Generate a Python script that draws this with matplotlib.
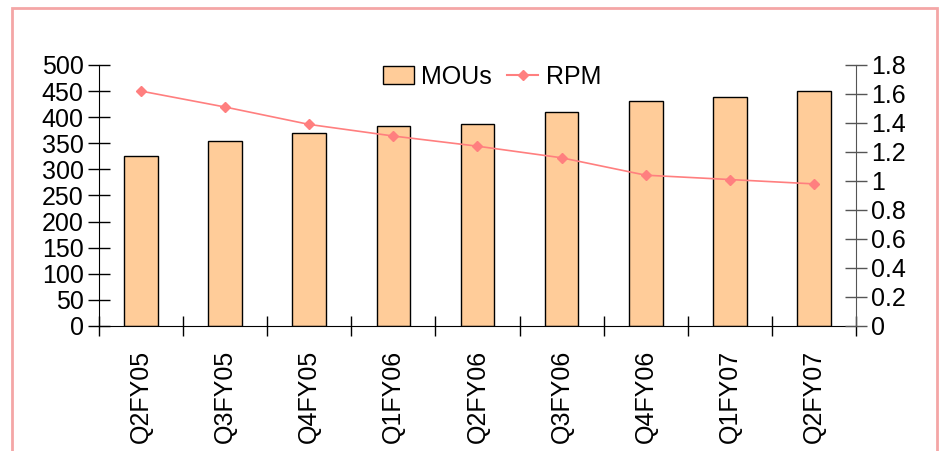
import matplotlib.pyplot as plt
import matplotlib.patches as patches
from matplotlib.lines import Line2D
import numpy as np

plt.rcParams['font.family'] = ['Liberation Sans', 'DejaVu Sans']

# data
quarters = ['Q2FY05', 'Q3FY05', 'Q4FY05', 'Q1FY06', 'Q2FY06',
            'Q3FY06', 'Q4FY06', 'Q1FY07', 'Q2FY07']
mous = [325, 355, 369, 383, 387, 410, 431, 439, 451]
rpm = [1.62, 1.51, 1.39, 1.31, 1.24, 1.16, 1.04, 1.01, 0.98]

fs = 18

fig = plt.figure(figsize=(9.39, 4.51), dpi=100)
ax = fig.add_axes([0.1054, 0.2772, 0.8062, 0.5787])
ax2 = ax.twinx()

x = np.arange(len(quarters))
ax.bar(x, mous, width=0.4, color='#FFCC99', edgecolor='black', linewidth=1, zorder=2)
ax2.plot(x, rpm, color='#FF7F7F', lw=1.2, marker='D', markersize=5, zorder=3)

ax.set_xlim(-0.5, len(quarters) - 0.5)
ax.set_ylim(0, 500)
ax2.set_ylim(0, 1.8)
ax.set_yticks(np.arange(0, 501, 50))
ax2.set_yticks(np.arange(0, 1.81, 0.2))
ax2.set_yticklabels(['0', '0.2', '0.4', '0.6', '0.8', '1', '1.2', '1.4', '1.6', '1.8'])

# category boundaries get the tick marks, labels sit at the centres
ax.set_xticks(np.arange(-0.5, len(quarters), 1))
ax.set_xticklabels([])
ax.set_xticks(x, minor=True)
ax.set_xticklabels(quarters, minor=True, rotation=90, fontsize=fs)
ax.tick_params(axis='x', which='major', direction='inout', length=15, width=1)
ax.tick_params(axis='x', which='minor', length=0, pad=17)
ax.tick_params(axis='y', direction='inout', length=16, width=1, labelsize=fs, pad=3)
ax2.tick_params(axis='y', direction='inout', length=16, width=1, labelsize=fs, pad=3,
                color='#555555')

for a in (ax, ax2):
    a.spines['top'].set_visible(False)
ax.spines['right'].set_visible(False)
ax2.spines['left'].set_visible(False)
ax2.spines['bottom'].set_visible(False)
ax2.spines['right'].set_color('#555555')

handles = [patches.Patch(facecolor='#FFCC99', edgecolor='black', label='MOUs'),
           Line2D([], [], color='#FF7F7F', marker='D', markersize=5, label='RPM')]
fig.legend(handles=handles, loc='center', bbox_to_anchor=(0.524, 0.83), ncol=2,
           frameon=False, fontsize=fs, handlelength=1.25, handletextpad=0.3,
           columnspacing=0.6)

fig.add_artist(patches.Rectangle((0.0128, -0.02), 0.985, 1.002,
                                 transform=fig.transFigure, fill=False,
                                 edgecolor='#F4A6A6', linewidth=2))

plt.savefig('out.png', dpi=100)
